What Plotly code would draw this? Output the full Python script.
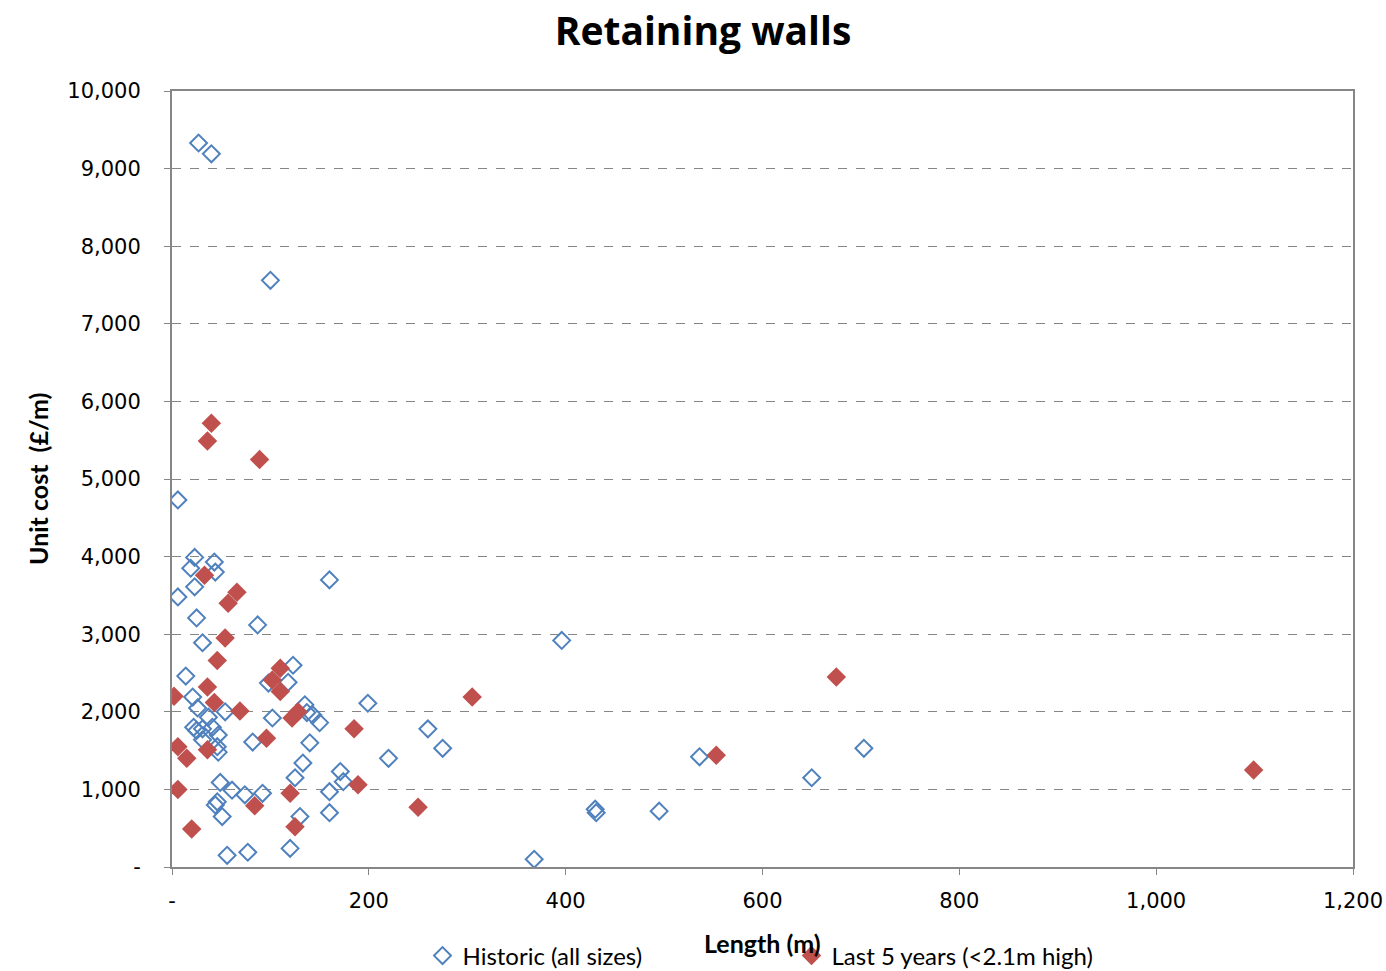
import plotly.graph_objects as go

hist_x = [27, 40, 100, 6, 160, 396, 6,
          23, 19, 43, 44, 23, 25, 87, 31,
          14, 21, 26, 37, 54, 22, 25, 31, 41, 47, 31, 46, 47, 82,
          49, 61, 46, 44, 51, 56, 77, 74, 92,
          102, 133, 125, 130, 120, 140, 137, 143, 150, 135,
          160, 160, 171, 174, 199, 123, 118, 98,
          220, 260, 275, 368, 430, 431, 495, 536, 650, 703]
hist_y = [9330, 9190, 7560, 4730, 3700, 2920, 3480,
          3990, 3850, 3930, 3800, 3610, 3210, 3120, 2890,
          2460, 2190, 2050, 1930, 2000, 1800, 1760, 1780, 1800, 1700, 1640, 1550, 1480, 1610,
          1090, 990, 840, 800, 650, 150, 190, 930, 950,
          1920, 1340, 1150, 650, 240, 1600, 1990, 1960, 1860, 2090,
          970, 700, 1230, 1100, 2110, 2600, 2380, 2370,
          1400, 1780, 1530, 100, 745, 700, 720, 1420, 1150, 1530]

recent_x = [40, 36, 89, 33, 66, 57, 54, 46, 36, 43, 69, 2, 6, 15, 36, 6, 20,
            110, 102, 110, 122, 128, 96, 84, 120, 125, 185, 189, 250, 305, 553, 675, 1099]
recent_y = [5720, 5490, 5250, 3760, 3540, 3400, 2950, 2660, 2320, 2120, 2010, 2200, 1550, 1400, 1510, 1000, 490,
            2560, 2410, 2260, 1920, 2000, 1660, 790, 950, 520, 1780, 1060, 770, 2190, 1440, 2450, 1250]

x_ticks = [0, 200, 400, 600, 800, 1000, 1200]
x_tick_text = ["-", "200", "400", "600", "800", "1,000", "1,200"]
y_ticks = [0, 1000, 2000, 3000, 4000, 5000, 6000, 7000, 8000, 9000, 10000]
y_tick_text = ["-", "1,000", "2,000", "3,000", "4,000", "5,000", "6,000", "7,000", "8,000", "9,000", "10,000"]

fig = go.Figure()
fig.add_trace(go.Scatter(
    x=hist_x, y=hist_y, mode="markers", name="Historic (all sizes)",
    marker=dict(symbol="diamond-open", size=13, color="#4F81BD", line=dict(width=2, color="#4F81BD"))))
fig.add_trace(go.Scatter(
    x=recent_x, y=recent_y, mode="markers", name="Last 5 years (<2.1m high)",
    marker=dict(symbol="diamond", size=15, color="#C0504D", line=dict(width=0))))

axis_common = dict(showline=True, linecolor="#868686", linewidth=2, mirror=True,
                   ticks="outside", ticklen=6, tickcolor="#868686", zeroline=False,
                   tickfont=dict(family="DejaVu Sans", size=21, color="black"))

plot_w = 1386 - 172 - 33
plot_h = 971 - 91 - 104

fig.update_layout(
    width=1386, height=971,
    margin=dict(l=172, r=33, t=91, b=104, autoexpand=False),
    paper_bgcolor="white", plot_bgcolor="white",
    title=dict(text="<b>Retaining walls</b>", x=703 / 1386, xref="container", xanchor="center",
               y=1 - 31 / 971, yref="container", yanchor="middle",
               font=dict(family="Open Sans", size=39, color="black")),
    xaxis=dict(range=[0, 1200], tickvals=x_ticks, ticktext=x_tick_text, showgrid=False,
               ticklabelstandoff=8, **axis_common),
    yaxis=dict(range=[0, 10000], tickvals=y_ticks, ticktext=y_tick_text, showgrid=True,
               gridcolor="#868686", griddash="dash", gridwidth=1, ticklabelstandoff=19, **axis_common),
    showlegend=True,
    legend=dict(orientation="h", x=0.5 + 29 / plot_w, xanchor="center",
                y=(867 - 956) / plot_h, yanchor="middle",
                font=dict(family="Lato", size=24, color="black"),
                entrywidth=324, entrywidthmode="pixels", itemwidth=30,
                bgcolor="rgba(0,0,0,0)"),
    annotations=[
        dict(text="<b>Length (m)</b>", x=(762 - 172) / plot_w, xref="paper",
             y=(867 - 943) / plot_h, yref="paper",
             xanchor="center", yanchor="middle", showarrow=False,
             font=dict(family="Lato", size=25, color="black")),
        dict(text="<b>Unit cost  (£/m)</b>", x=(38 - 172) / plot_w, xref="paper",
             y=(867 - 479) / plot_h, yref="paper",
             textangle=-90, showarrow=False, xanchor="center", yanchor="middle",
             font=dict(family="Lato", size=25, color="black")),
    ],
)

fig.write_html("out.html")
